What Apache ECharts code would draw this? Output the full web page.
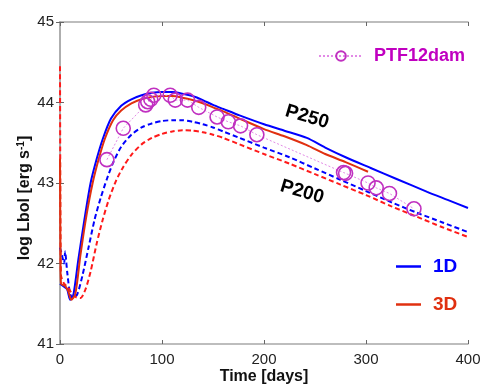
<!DOCTYPE html>
<html>
<head>
<meta charset="utf-8">
<script src="https://cdn.jsdelivr.net/npm/echarts@6/dist/echarts.min.js"></script>
<style>
    html, body { margin: 0; padding: 0; background: #fff; }
    #chart { width: 498px; height: 389px; }
</style>
</head>
<body>
<div id="chart"></div>
<script>
    // model light curves, [day, log Lbol]
    var oneD_P250 = [[0,41.75],[3,41.72],[7,41.68],[10,41.55],[13,41.6],[18,42.05],[24,42.55],[30,43.0],[36,43.3],[42,43.55],[50,43.8],[60,43.96],[70,44.04],[80,44.09],[90,44.12],[100,44.13],[110,44.13],[120,44.11],[130,44.08],[140,44.03],[150,43.97],[160,43.92],[176,43.84],[200,43.73],[220,43.65],[242,43.56],[260,43.44],[280,43.32],[304,43.19],[330,43.05],[360,42.89],[380,42.79],[400,42.69]];
    var threeD_P250 = [[0,43.3],[0.5,42.0],[1,41.75],[5,41.72],[8,41.66],[11,41.55],[15,41.62],[20,42.1],[26,42.6],[32,43.0],[38,43.3],[44,43.55],[52,43.78],[60,43.9],[70,43.99],[80,44.04],[90,44.07],[100,44.08],[110,44.08],[120,44.06],[130,44.03],[140,43.99],[150,43.94],[160,43.89],[176,43.8],[200,43.67],[220,43.58],[242,43.47],[260,43.36],[280,43.26],[302,43.14]];
    var oneD_P200 = [[0,42.2],[2,42.1],[4,42.0],[5,42.15],[7,41.9],[10,41.62],[13,41.57],[17,41.62],[22,41.85],[28,42.2],[34,42.55],[40,42.82],[46,43.05],[52,43.25],[60,43.45],[70,43.6],[80,43.69],[90,43.74],[100,43.77],[110,43.78],[120,43.78],[130,43.76],[140,43.73],[150,43.69],[160,43.64],[176,43.56],[200,43.44],[225,43.32],[250,43.18],[275,43.04],[300,42.9],[325,42.76],[350,42.63],[375,42.51],[400,42.39]];
    var threeD_P200 = [[0,44.45],[0.3,43.0],[0.6,42.2],[1,41.85],[4,41.75],[8,41.7],[12,41.62],[16,41.58],[20,41.57],[25,41.68],[30,41.9],[36,42.25],[42,42.55],[48,42.8],[55,43.03],[62,43.2],[70,43.35],[80,43.48],[90,43.56],[100,43.61],[110,43.64],[120,43.655],[130,43.65],[140,43.63],[150,43.6],[160,43.56],[176,43.48],[200,43.36],[225,43.24],[250,43.11],[275,42.98],[300,42.85],[325,42.71],[350,42.58],[375,42.45],[400,42.33]];
    // observed PTF12dam
    var ptf12dam = [[46,43.29],[62,43.68],[84,43.97],[86,44.01],[89,44.04],[92,44.09],[108,44.09],[113,44.03],[125,44.03],[136,43.94],[154,43.82],[165,43.76],[177,43.71],[193,43.6],[278,43.13],[280,43.12],[302,43.0],[310,42.94],[323,42.87],[347,42.68]];
    var xTicks = [0, 100, 200, 300, 400];
    var yTicks = [41, 42, 43, 44, 45];

    var blue = '#0000ff';
    var redSolid = '#e03010';
    var redDash = '#ff1a1a';
    var magenta = '#c030c0';
    var font = '"Liberation Sans", Arial, sans-serif';

    var chart = echarts.init(document.getElementById('chart'));

    var axisCommon = {
        type: 'value',
        axisLine: { show: true, lineStyle: { color: '#a8a8a8', width: 1.5 } },
        axisTick: { show: true, inside: true, length: 4, lineStyle: { color: '#666' } },
        splitLine: { show: false }
    };

    function modelLine(name, data, color, dashed) {
        return {
            name: name, type: 'line', data: data,
            showSymbol: false, symbol: 'none',
            smooth: 0.25,
            lineStyle: { color: color, width: 2, type: dashed ? [5, 3] : 'solid' },
            itemStyle: { color: color }
        };
    }

    var options = {
        backgroundColor: '#fff',
        animation: false,
        grid: { left: 60, right: 30, top: 22, bottom: 45 },
        xAxis: [
            Object.assign({}, axisCommon, {
                min: xTicks[0], max: xTicks[xTicks.length - 1], interval: 100,
                axisLabel: { color: '#222', fontSize: 15, fontFamily: font, margin: 8 }
            }),
            Object.assign({}, axisCommon, {
                position: 'top', min: 0, max: 400, interval: 100,
                axisLabel: { show: false }
            })
        ],
        yAxis: [
            Object.assign({}, axisCommon, {
                min: yTicks[0], max: yTicks[yTicks.length - 1], interval: 1,
                axisLabel: { color: '#222', fontSize: 15, fontFamily: font, margin: 6 }
            }),
            Object.assign({}, axisCommon, {
                position: 'right', min: 41, max: 45, interval: 1,
                axisLabel: { show: false }
            })
        ],
        legend: [
            {
                data: ['PTF12dam'],
                left: 313, top: 42,
                itemWidth: 44, itemHeight: 12,
                textStyle: { color: '#c000c0', fontSize: 18, fontWeight: 'bold', fontFamily: font, padding: [0, 0, 0, 6] }
            },
            {
                data: [
                    { name: '1D', textStyle: { color: blue } },
                    { name: '3D', textStyle: { color: redSolid } }
                ],
                orient: 'vertical',
                left: 391, top: 252,
                itemGap: 19,
                icon: 'rect',
                itemWidth: 25, itemHeight: 2.5,
                textStyle: { fontSize: 19, fontWeight: 'bold', fontFamily: font, padding: [0, 0, 0, 7] }
            }
        ],
        graphic: [
            {
                type: 'text', x: 25, y: 198, rotation: Math.PI / 2,
                style: {
                    text: 'log Lbol [erg s{sup|-1}]',
                    align: 'center', verticalAlign: 'middle',
                    font: 'bold 16px ' + font, fill: '#111',
                    rich: { sup: { fontSize: 10, fontWeight: 'bold', fontFamily: font, verticalAlign: 'top', padding: [0, 0, 8, 0] } }
                }
            },
            {
                type: 'text', x: 264, y: 377,
                style: { text: 'Time [days]', align: 'center', verticalAlign: 'middle', font: 'bold 16px ' + font, fill: '#111' }
            },
            {
                type: 'text', x: 307, y: 117, rotation: -0.29,
                style: { text: 'P250', align: 'center', verticalAlign: 'middle', font: 'bold 19px ' + font, fill: '#000' }
            },
            {
                type: 'text', x: 302, y: 192, rotation: -0.29,
                style: { text: 'P200', align: 'center', verticalAlign: 'middle', font: 'bold 19px ' + font, fill: '#000' }
            }
        ],
        series: [
            modelLine('1D P200', oneD_P200, blue, true),
            modelLine('3D P200', threeD_P200, redDash, true),
            modelLine('1D', oneD_P250, blue, false),
            modelLine('3D', threeD_P250, redSolid, false),
            {
                name: 'PTF12dam', type: 'line', data: ptf12dam,
                symbol: 'circle', symbolSize: 14, showSymbol: true,
                lineStyle: { color: '#e28ae6', width: 1, type: [2, 2] },
                itemStyle: { color: 'transparent', borderColor: magenta, borderWidth: 1.6 }
            }
        ]
    };
    chart.setOption(options);
</script>
</body>
</html>
